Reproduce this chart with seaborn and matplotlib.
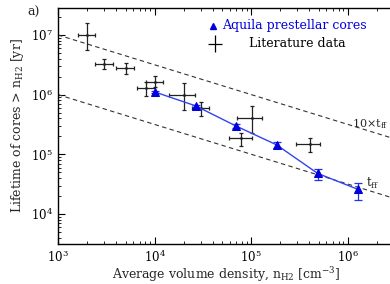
import numpy as np
import pandas as pd
import matplotlib
matplotlib.use("Agg")
import matplotlib.pyplot as plt
import seaborn as sns

# Aquila prestellar cores
aq_n = [1.0e4, 2.65e4, 6.9e4, 1.83e5, 4.85e5, 1.26e6]
aq_t = [1.11e6, 6.5e5, 3.0e5, 1.44e5, 4.8e4, 2.6e4]
aq_t_lo = [1.06e6, 6.2e5, 2.8e5, 1.26e5, 3.67e4, 1.72e4]
aq_t_hi = [1.16e6, 6.8e5, 3.2e5, 1.61e5, 5.7e4, 3.27e4]

# Literature data
lit_n = [2.01e3, 3.01e3, 5.01e3, 8.13e3, 1.02e4, 2.02e4, 3.01e4, 1.01e5, 7.8e4, 4.03e5]
lit_n_lo = [1.62e3, 2.42e3, 3.98e3, 6.51e3, 8.1e3, 1.42e4, 2.42e4, 7.15e4, 5.9e4, 2.87e5]
lit_n_hi = [2.42e3, 3.68e3, 6.11e3, 1.0e4, 1.21e4, 2.61e4, 3.67e4, 1.28e5, 1.01e5, 5.12e5]
lit_t = [1.0e7, 3.27e6, 2.77e6, 1.31e6, 1.65e6, 9.9e5, 5.98e5, 4.02e5, 1.86e5, 1.49e5]
lit_t_lo = [5.61e6, 2.66e6, 2.19e6, 9.6e5, 1.36e6, 5.53e5, 4.45e5, 2.31e5, 1.38e5, 1.08e5]
lit_t_hi = [1.57e7, 3.96e6, 3.36e6, 1.65e6, 2.05e6, 1.57e6, 7.45e5, 6.45e5, 2.25e5, 1.86e5]

# free-fall time lines (end points)
ff_n = [1e3, 3e6]
tff_t = [1e6, 1.83e4]
tff10_t = [1e7, 1.83e5]

sns.set_theme(style="ticks")
plt.rcParams['font.family'] = ['DejaVu Serif']
plt.rcParams['mathtext.fontset'] = 'dejavuserif'

fig = plt.figure(figsize=(3.9, 2.84), dpi=100)
ax = fig.add_axes([58/390, 40/284, 336/390, 236.3/284])

ax.set_xscale('log')
ax.set_yscale('log')
ax.set_xlim(1e3, 3e6)
ax.set_ylim(10**3.497, 10**7.457)

ax.plot(ff_n, tff_t, ls=(0, (4, 3)), color='#333333', lw=0.8)
ax.plot(ff_n, tff10_t, ls=(0, (4, 3)), color='#333333', lw=0.8)

lit = pd.DataFrame({'n': lit_n, 't': lit_t})
ax.errorbar(lit_n, lit_t,
            xerr=[np.array(lit_n) - np.array(lit_n_lo), np.array(lit_n_hi) - np.array(lit_n)],
            yerr=[np.array(lit_t) - np.array(lit_t_lo), np.array(lit_t_hi) - np.array(lit_t)],
            fmt='none', ecolor='#222222', elinewidth=0.9, capsize=1.5, capthick=0.9)
sns.scatterplot(data=lit, x='n', y='t', ax=ax, color='black', s=4, marker='o', linewidth=0, legend=False)

aq = pd.DataFrame({'n': aq_n, 't': aq_t})
ax.errorbar(aq_n, aq_t,
            yerr=[np.array(aq_t) - np.array(aq_t_lo), np.array(aq_t_hi) - np.array(aq_t)],
            fmt='none', ecolor='#2233ee', elinewidth=0.9, capsize=3, capthick=0.9)
sns.lineplot(data=aq, x='n', y='t', ax=ax, color='#3344ee', lw=1.0, marker='^',
             markersize=5.5, markeredgecolor='#0000dd', markerfacecolor='#0000dd', legend=False)

ax.set_xlabel(r"Average volume density, n$_{\rm H2}$ [cm$^{-3}$]", fontsize=9, labelpad=0)
ax.set_ylabel(r"Lifetime of cores > n$_{\rm H2}$ [yr]", fontsize=9, labelpad=4)

ax.tick_params(which='both', direction='in', top=True, right=False, labelsize=8.5, colors='black')
ax.tick_params(which='major', length=5, width=0.8)
ax.tick_params(which='minor', length=2.5, width=0.6)
ax.xaxis.set_minor_locator(matplotlib.ticker.LogLocator(base=10, subs=np.arange(2, 10)))
ax.yaxis.set_minor_locator(matplotlib.ticker.LogLocator(base=10, subs=np.arange(2, 10)))
ax.xaxis.set_minor_formatter(matplotlib.ticker.NullFormatter())
ax.yaxis.set_minor_formatter(matplotlib.ticker.NullFormatter())
for s in ['left', 'bottom', 'top']:
    ax.spines[s].set_linewidth(1.0)
    ax.spines[s].set_color('black')
ax.spines['right'].set_visible(False)

# legend (manual)
ax.plot([0.462], [0.924], transform=ax.transAxes, marker='^', color='#0000dd', ms=4, ls='none')
ax.text(0.487, 0.924, "Aquila prestellar cores", transform=ax.transAxes, color='#0000dd',
        fontsize=9, va='center', ha='left')
ax.errorbar([0.467], [0.848], xerr=0.022, yerr=0.035, transform=ax.transAxes, fmt='none',
            ecolor='black', elinewidth=0.9)
ax.text(0.568, 0.848, "Literature data", transform=ax.transAxes, color='black',
        fontsize=9, va='center', ha='left')

ax.text(352, 284 - 124, r"10$\times$t$_{\rm ff}$", transform=None, fontsize=8, va='center', ha='left')
ax.text(366, 284 - 183, r"t$_{\rm ff}$", transform=None, fontsize=8.5, va='center', ha='left')

fig.text(27/390, 1 - 12/284, "a)", fontsize=9, va='center', ha='left')

fig.savefig("out.png", dpi=100)
